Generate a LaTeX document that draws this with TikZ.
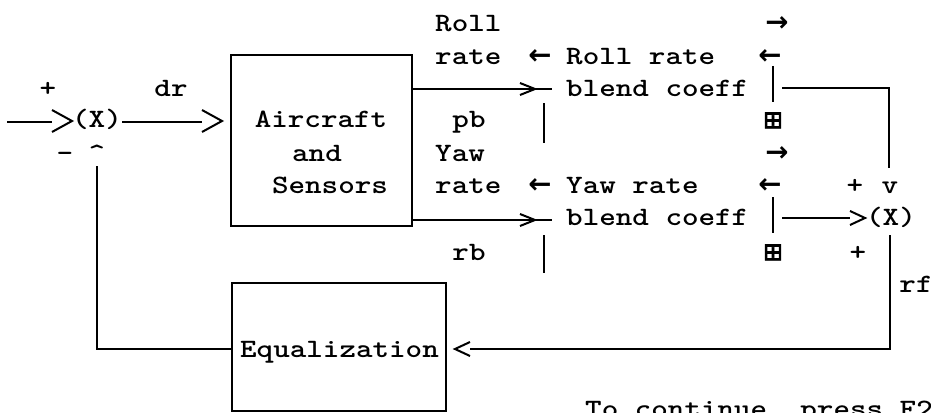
\documentclass[tikz,border=0pt]{standalone}
\usepackage{fontspec}
\newfontfamily\symf{DejaVu Sans}
\newfontfamily\symb{DejaVu Sans Bold}
\newfontfamily\cour{lmmonolt10-bold.otf}[FakeStretch=1.19]
\newcommand{\crfont}{\cour\fontsize{26.5}{30}\selectfont}
\begin{document}
\begin{tikzpicture}[x=1pt,y=-1pt,
  txt/.style={font=\crfont, inner sep=0pt, anchor=base},
  arr/.style={font=\symb\fontsize{27.7}{30}\selectfont, inner sep=0pt, anchor=base},
  grid/.style={font=\symf\fontsize{24}{26}\selectfont\addfontfeatures{FakeBold=3}, inner sep=0pt, anchor=base},
  ln/.style={line width=2pt},
  blk/.style={draw, line width=2.2pt, inner sep=0pt}]
\fill[white] (0,0) rectangle (931,412);
\useasboundingbox (0,0) rectangle (931,412);

% boxes
\node[blk, minimum width=181pt, minimum height=171pt] (AS) at (321.5,140.5) {};
\node[blk, minimum width=214pt, minimum height=128pt] (EQ) at (339,347) {};
\node[txt] (t-air) at (321,127) {Aircraft};
\node[txt] (t-and) at (317,161) {and};
\node[txt] (t-sen) at (330,193) {Sensors};
\node[txt] (t-eq) at (339.5,357) {Equalization};

% left summing junction
\node[txt] (p1) at (48,96) {+};
\node[txt] (dr) at (171,96) {dr};
\node[txt] (sum1) at (97,127) {(X)};
\node[txt] (caret) at (97,161) {\textasciicircum};
\node[txt] (minus) at (65,161) {-};

% middle labels
\node[txt, anchor=base west] (roll) at (435,32) {Roll};
\node[txt, anchor=base west] (rate1) at (435,64) {rate};
\node[arr] (la1) at (540,64) {←};
\node[txt, anchor=base west] (rr) at (566,64) {Roll rate};
\node[txt, anchor=base west] (bc1) at (566,96) {blend coeff};
\node[txt] (pb) at (469,127) {pb};
\node[txt, anchor=base west] (yaw) at (435,161) {Yaw};
\node[txt, anchor=base west] (rate2) at (435,193) {rate};
\node[arr] (la2) at (540,193) {←};
\node[txt, anchor=base west] (yr) at (566,193) {Yaw rate};
\node[txt, anchor=base west] (bc2) at (566,225) {blend coeff};
\node[txt] (rb) at (469,260) {rb};

% right side
\node[arr] (ra1) at (777,32) {→};
\node[arr] (la3) at (770,64) {←};
\node[grid] (bx1) at (773,128) {⊞};
\node[arr] (ra2) at (777,161) {→};
\node[arr] (la4) at (770,193) {←};
\node[grid] (bx2) at (773,260) {⊞};
\node[txt] (p2) at (855,193) {+};
\node[txt] (vv) at (890,193) {v};
\node[txt] (sum2) at (891,225) {(X)};
\node[txt] (p3) at (858,260) {+};
\node[txt] (rf) at (916,292) {rf};

\node[txt, anchor=base west] (cont) at (585,417) {To continue, press F2};

% coordinates
\coordinate (in) at (7,122);
\coordinate (g1) at (52,122);
\coordinate (g2) at (202,122);
\coordinate (b1) at (552,89);
\coordinate (b2) at (552,220);
\coordinate (g4) at (850,218);
\coordinate (fbtop) at (97,166);
\coordinate (rfbot) at (470,349);

% connectors
\draw[ln] (in) -- (g1);
\draw[ln] (52,110) -- (72,121) -- (52,132);
\draw[ln] (sum1.east |- in) -- (g2);
\draw[ln] (202,110) -- (222,121) -- (202,132);

\draw[ln] (AS.east |- b1) -- (b1);
\draw[ln] (520,83) -- (535,89) -- (520,95);
\draw[ln] (AS.east |- b2) -- (b2);
\draw[ln] (520,214) -- (535,220) -- (520,226);

\draw[ln] (544,103) -- (544,143);
\draw[ln] (544,235) -- (544,273);
\draw[ln] (773,66) -- (773,102);
\draw[ln] (773,197) -- (773,233);

\draw[ln] (782,88) -| (889,168);
\draw[ln] (782,218) -- (g4);
\draw[ln] (850,211) -- (865,218) -- (850,225);
\draw[ln] (890,235) |- (rfbot);
\draw[ln] (470,342) -- (455,349) -- (470,356);
\draw[ln] (EQ.west |- rfbot) -| (fbtop);
\end{tikzpicture}
\end{document}
